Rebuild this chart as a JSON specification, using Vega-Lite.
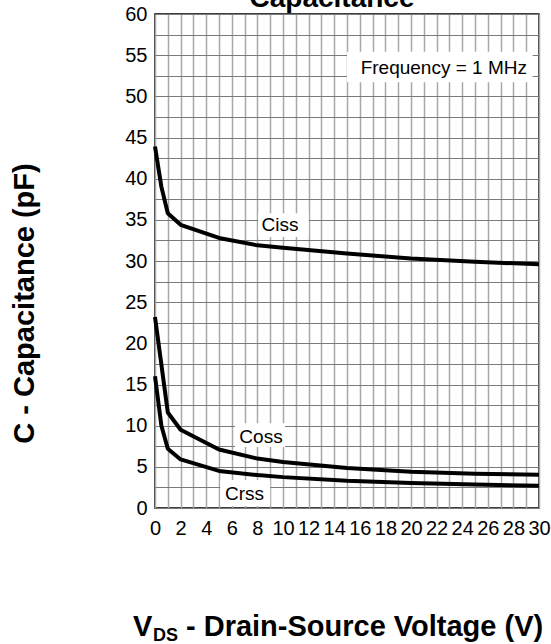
{
  "$schema": "https://vega.github.io/schema/vega-lite/v6.json",
  "width": 384,
  "height": 494,
  "autosize": {"type": "none"},
  "padding": {"left": 155, "top": 14, "right": 12, "bottom": 136},
  "background": "white",
  "config": {
    "font": "Liberation Sans",
    "view": {"stroke": "#000", "strokeWidth": 1.5},
    "axis": {
      "domain": false,
      "ticks": false,
      "labelFont": "Liberation Sans",
      "labelFontSize": 20,
      "labelColor": "#000",
      "labelFlush": false,
      "labelOverlap": false,
      "labelBound": false
    },
    "text": {"font": "Liberation Sans", "color": "#000"}
  },
  "datasets": {
    "curves": [
      {"series": "Ciss", "vds": 0, "c": 43.9},
      {"series": "Ciss", "vds": 0.5, "c": 39.0},
      {"series": "Ciss", "vds": 1, "c": 35.8},
      {"series": "Ciss", "vds": 2, "c": 34.4},
      {"series": "Ciss", "vds": 5, "c": 32.8},
      {"series": "Ciss", "vds": 8, "c": 31.9},
      {"series": "Ciss", "vds": 10, "c": 31.6},
      {"series": "Ciss", "vds": 15, "c": 30.9},
      {"series": "Ciss", "vds": 20, "c": 30.3},
      {"series": "Ciss", "vds": 25, "c": 29.9},
      {"series": "Ciss", "vds": 30, "c": 29.6},
      {"series": "Coss", "vds": 0, "c": 23.2},
      {"series": "Coss", "vds": 1, "c": 11.6},
      {"series": "Coss", "vds": 2, "c": 9.5},
      {"series": "Coss", "vds": 5, "c": 7.1},
      {"series": "Coss", "vds": 8, "c": 6.0},
      {"series": "Coss", "vds": 10, "c": 5.6},
      {"series": "Coss", "vds": 15, "c": 4.85},
      {"series": "Coss", "vds": 20, "c": 4.4},
      {"series": "Coss", "vds": 25, "c": 4.15},
      {"series": "Coss", "vds": 30, "c": 4.05},
      {"series": "Crss", "vds": 0, "c": 16.0},
      {"series": "Crss", "vds": 0.5, "c": 10.0},
      {"series": "Crss", "vds": 1, "c": 7.2},
      {"series": "Crss", "vds": 2, "c": 5.9},
      {"series": "Crss", "vds": 5, "c": 4.5},
      {"series": "Crss", "vds": 8, "c": 4.0},
      {"series": "Crss", "vds": 10, "c": 3.75},
      {"series": "Crss", "vds": 15, "c": 3.3},
      {"series": "Crss", "vds": 20, "c": 3.05},
      {"series": "Crss", "vds": 25, "c": 2.85},
      {"series": "Crss", "vds": 30, "c": 2.7}
    ]
  },
  "layer": [
    {
      "data": {"name": "curves"},
      "mark": {"type": "line", "color": "#000", "strokeWidth": 4, "strokeJoin": "round"},
      "encoding": {
        "x": {
          "field": "vds",
          "type": "quantitative",
          "scale": {"domain": [0, 30], "nice": false, "zero": false},
          "axis": {
            "values": [0,1,2,3,4,5,6,7,8,9,10,11,12,13,14,15,16,17,18,19,20,21,22,23,24,25,26,27,28,29,30],
            "labelExpr": "datum.value % 2 === 0 ? datum.label : ''",
            "labelOverlap": false,
            "grid": true,
            "gridColor": "#a8a8a8",
            "gridWidth": 1.5,
            "labelPadding": 10,
            "title": null
          }
        },
        "y": {
          "field": "c",
          "type": "quantitative",
          "scale": {"domain": [0, 60], "nice": false},
          "axis": {
            "values": [0,2.5,5,7.5,10,12.5,15,17.5,20,22.5,25,27.5,30,32.5,35,37.5,40,42.5,45,47.5,50,52.5,55,57.5,60],
            "labelExpr": "datum.value % 5 === 0 ? datum.label : ''",
            "labelOverlap": false,
            "grid": true,
            "gridColor": "#7a7a7a",
            "gridWidth": 1,
            "labelPadding": 8,
            "title": "C - Capacitance (pF)",
            "titleFontSize": 29,
            "titleFontWeight": "bold",
            "titleColor": "#000",
            "titleAngle": -90,
            "titleX": -122,
            "titleY": 289,
            "titleAlign": "center",
            "titleBaseline": "alphabetic"
          }
        },
        "detail": {"field": "series"}
      }
    },
    {
      "data": {"values": [{}]},
      "mark": {"type": "text", "text": "Capacitance", "fontSize": 28, "fontWeight": "bold", "align": "center", "baseline": "alphabetic"},
      "encoding": {
        "x": {"datum": 13.83, "type": "quantitative", "axis": {"values": [0,1,2,3,4,5,6,7,8,9,10,11,12,13,14,15,16,17,18,19,20,21,22,23,24,25,26,27,28,29,30], "labelExpr": "datum.value % 2 === 0 ? datum.label : ''", "labelOverlap": false, "grid": true, "gridColor": "#a8a8a8", "gridWidth": 1.5, "labelPadding": 10, "title": null}},
        "y": {"datum": 60.79, "type": "quantitative", "axis": {"values": [0,2.5,5,7.5,10,12.5,15,17.5,20,22.5,25,27.5,30,32.5,35,37.5,40,42.5,45,47.5,50,52.5,55,57.5,60], "labelExpr": "datum.value % 5 === 0 ? datum.label : ''", "labelOverlap": false, "grid": true, "gridColor": "#7a7a7a", "gridWidth": 1, "labelPadding": 8, "title": "C - Capacitance (pF)", "titleFontSize": 29, "titleFontWeight": "bold", "titleColor": "#000", "titleAngle": -90, "titleX": -122, "titleY": 289, "titleAlign": "center", "titleBaseline": "alphabetic"}}
      }
    },
    {
      "data": {"values": [{}]},
      "mark": {"type": "rect", "fill": "white"},
      "encoding": {
        "x": {"datum": 15.0, "type": "quantitative", "axis": {"values": [0,1,2,3,4,5,6,7,8,9,10,11,12,13,14,15,16,17,18,19,20,21,22,23,24,25,26,27,28,29,30], "labelExpr": "datum.value % 2 === 0 ? datum.label : ''", "labelOverlap": false, "grid": true, "gridColor": "#a8a8a8", "gridWidth": 1.5, "labelPadding": 10, "title": null}},
        "x2": {"datum": 29.5},
        "y": {"datum": 55.4, "type": "quantitative", "axis": {"values": [0,2.5,5,7.5,10,12.5,15,17.5,20,22.5,25,27.5,30,32.5,35,37.5,40,42.5,45,47.5,50,52.5,55,57.5,60], "labelExpr": "datum.value % 5 === 0 ? datum.label : ''", "labelOverlap": false, "grid": true, "gridColor": "#7a7a7a", "gridWidth": 1, "labelPadding": 8, "title": "C - Capacitance (pF)", "titleFontSize": 29, "titleFontWeight": "bold", "titleColor": "#000", "titleAngle": -90, "titleX": -122, "titleY": 289, "titleAlign": "center", "titleBaseline": "alphabetic"}},
        "y2": {"datum": 51.7}
      }
    },
    {
      "data": {"values": [{}]},
      "mark": {"type": "text", "text": "Frequency = 1 MHz", "fontSize": 19, "align": "right", "baseline": "middle"},
      "encoding": {
        "x": {"datum": 29.06, "type": "quantitative", "axis": {"values": [0,1,2,3,4,5,6,7,8,9,10,11,12,13,14,15,16,17,18,19,20,21,22,23,24,25,26,27,28,29,30], "labelExpr": "datum.value % 2 === 0 ? datum.label : ''", "labelOverlap": false, "grid": true, "gridColor": "#a8a8a8", "gridWidth": 1.5, "labelPadding": 10, "title": null}},
        "y": {"datum": 53.4, "type": "quantitative", "axis": {"values": [0,2.5,5,7.5,10,12.5,15,17.5,20,22.5,25,27.5,30,32.5,35,37.5,40,42.5,45,47.5,50,52.5,55,57.5,60], "labelExpr": "datum.value % 5 === 0 ? datum.label : ''", "labelOverlap": false, "grid": true, "gridColor": "#7a7a7a", "gridWidth": 1, "labelPadding": 8, "title": "C - Capacitance (pF)", "titleFontSize": 29, "titleFontWeight": "bold", "titleColor": "#000", "titleAngle": -90, "titleX": -122, "titleY": 289, "titleAlign": "center", "titleBaseline": "alphabetic"}}
      }
    },
    {
      "data": {"values": [{}]},
      "mark": {"type": "rect", "fill": "white"},
      "encoding": {
        "x": {"datum": 8.05, "type": "quantitative", "axis": {"values": [0,1,2,3,4,5,6,7,8,9,10,11,12,13,14,15,16,17,18,19,20,21,22,23,24,25,26,27,28,29,30], "labelExpr": "datum.value % 2 === 0 ? datum.label : ''", "labelOverlap": false, "grid": true, "gridColor": "#a8a8a8", "gridWidth": 1.5, "labelPadding": 10, "title": null}},
        "x2": {"datum": 12.0},
        "y": {"datum": 35.8, "type": "quantitative", "axis": {"values": [0,2.5,5,7.5,10,12.5,15,17.5,20,22.5,25,27.5,30,32.5,35,37.5,40,42.5,45,47.5,50,52.5,55,57.5,60], "labelExpr": "datum.value % 5 === 0 ? datum.label : ''", "labelOverlap": false, "grid": true, "gridColor": "#7a7a7a", "gridWidth": 1, "labelPadding": 8, "title": "C - Capacitance (pF)", "titleFontSize": 29, "titleFontWeight": "bold", "titleColor": "#000", "titleAngle": -90, "titleX": -122, "titleY": 289, "titleAlign": "center", "titleBaseline": "alphabetic"}},
        "y2": {"datum": 32.9}
      }
    },
    {
      "data": {"values": [{}]},
      "mark": {"type": "text", "text": "Ciss", "fontSize": 19, "align": "center", "baseline": "middle"},
      "encoding": {
        "x": {"datum": 9.77, "type": "quantitative", "axis": {"values": [0,1,2,3,4,5,6,7,8,9,10,11,12,13,14,15,16,17,18,19,20,21,22,23,24,25,26,27,28,29,30], "labelExpr": "datum.value % 2 === 0 ? datum.label : ''", "labelOverlap": false, "grid": true, "gridColor": "#a8a8a8", "gridWidth": 1.5, "labelPadding": 10, "title": null}},
        "y": {"datum": 34.4, "type": "quantitative", "axis": {"values": [0,2.5,5,7.5,10,12.5,15,17.5,20,22.5,25,27.5,30,32.5,35,37.5,40,42.5,45,47.5,50,52.5,55,57.5,60], "labelExpr": "datum.value % 5 === 0 ? datum.label : ''", "labelOverlap": false, "grid": true, "gridColor": "#7a7a7a", "gridWidth": 1, "labelPadding": 8, "title": "C - Capacitance (pF)", "titleFontSize": 29, "titleFontWeight": "bold", "titleColor": "#000", "titleAngle": -90, "titleX": -122, "titleY": 289, "titleAlign": "center", "titleBaseline": "alphabetic"}}
      }
    },
    {
      "data": {"values": [{}]},
      "mark": {"type": "rect", "fill": "white"},
      "encoding": {
        "x": {"datum": 6.25, "type": "quantitative", "axis": {"values": [0,1,2,3,4,5,6,7,8,9,10,11,12,13,14,15,16,17,18,19,20,21,22,23,24,25,26,27,28,29,30], "labelExpr": "datum.value % 2 === 0 ? datum.label : ''", "labelOverlap": false, "grid": true, "gridColor": "#a8a8a8", "gridWidth": 1.5, "labelPadding": 10, "title": null}},
        "x2": {"datum": 10.16},
        "y": {"datum": 10.3, "type": "quantitative", "axis": {"values": [0,2.5,5,7.5,10,12.5,15,17.5,20,22.5,25,27.5,30,32.5,35,37.5,40,42.5,45,47.5,50,52.5,55,57.5,60], "labelExpr": "datum.value % 5 === 0 ? datum.label : ''", "labelOverlap": false, "grid": true, "gridColor": "#7a7a7a", "gridWidth": 1, "labelPadding": 8, "title": "C - Capacitance (pF)", "titleFontSize": 29, "titleFontWeight": "bold", "titleColor": "#000", "titleAngle": -90, "titleX": -122, "titleY": 289, "titleAlign": "center", "titleBaseline": "alphabetic"}},
        "y2": {"datum": 7.4}
      }
    },
    {
      "data": {"values": [{}]},
      "mark": {"type": "text", "text": "Coss", "fontSize": 19, "align": "center", "baseline": "middle"},
      "encoding": {
        "x": {"datum": 8.28, "type": "quantitative", "axis": {"values": [0,1,2,3,4,5,6,7,8,9,10,11,12,13,14,15,16,17,18,19,20,21,22,23,24,25,26,27,28,29,30], "labelExpr": "datum.value % 2 === 0 ? datum.label : ''", "labelOverlap": false, "grid": true, "gridColor": "#a8a8a8", "gridWidth": 1.5, "labelPadding": 10, "title": null}},
        "y": {"datum": 8.68, "type": "quantitative", "axis": {"values": [0,2.5,5,7.5,10,12.5,15,17.5,20,22.5,25,27.5,30,32.5,35,37.5,40,42.5,45,47.5,50,52.5,55,57.5,60], "labelExpr": "datum.value % 5 === 0 ? datum.label : ''", "labelOverlap": false, "grid": true, "gridColor": "#7a7a7a", "gridWidth": 1, "labelPadding": 8, "title": "C - Capacitance (pF)", "titleFontSize": 29, "titleFontWeight": "bold", "titleColor": "#000", "titleAngle": -90, "titleX": -122, "titleY": 289, "titleAlign": "center", "titleBaseline": "alphabetic"}}
      }
    },
    {
      "data": {"values": [{}]},
      "mark": {"type": "rect", "fill": "white"},
      "encoding": {
        "x": {"datum": 5.1, "type": "quantitative", "axis": {"values": [0,1,2,3,4,5,6,7,8,9,10,11,12,13,14,15,16,17,18,19,20,21,22,23,24,25,26,27,28,29,30], "labelExpr": "datum.value % 2 === 0 ? datum.label : ''", "labelOverlap": false, "grid": true, "gridColor": "#a8a8a8", "gridWidth": 1.5, "labelPadding": 10, "title": null}},
        "x2": {"datum": 9.0},
        "y": {"datum": 3.4, "type": "quantitative", "axis": {"values": [0,2.5,5,7.5,10,12.5,15,17.5,20,22.5,25,27.5,30,32.5,35,37.5,40,42.5,45,47.5,50,52.5,55,57.5,60], "labelExpr": "datum.value % 5 === 0 ? datum.label : ''", "labelOverlap": false, "grid": true, "gridColor": "#7a7a7a", "gridWidth": 1, "labelPadding": 8, "title": "C - Capacitance (pF)", "titleFontSize": 29, "titleFontWeight": "bold", "titleColor": "#000", "titleAngle": -90, "titleX": -122, "titleY": 289, "titleAlign": "center", "titleBaseline": "alphabetic"}},
        "y2": {"datum": 0.25}
      }
    },
    {
      "data": {"values": [{}]},
      "mark": {"type": "text", "text": "Crss", "fontSize": 19, "align": "center", "baseline": "middle"},
      "encoding": {
        "x": {"datum": 7.0, "type": "quantitative", "axis": {"values": [0,1,2,3,4,5,6,7,8,9,10,11,12,13,14,15,16,17,18,19,20,21,22,23,24,25,26,27,28,29,30], "labelExpr": "datum.value % 2 === 0 ? datum.label : ''", "labelOverlap": false, "grid": true, "gridColor": "#a8a8a8", "gridWidth": 1.5, "labelPadding": 10, "title": null}},
        "y": {"datum": 1.76, "type": "quantitative", "axis": {"values": [0,2.5,5,7.5,10,12.5,15,17.5,20,22.5,25,27.5,30,32.5,35,37.5,40,42.5,45,47.5,50,52.5,55,57.5,60], "labelExpr": "datum.value % 5 === 0 ? datum.label : ''", "labelOverlap": false, "grid": true, "gridColor": "#7a7a7a", "gridWidth": 1, "labelPadding": 8, "title": "C - Capacitance (pF)", "titleFontSize": 29, "titleFontWeight": "bold", "titleColor": "#000", "titleAngle": -90, "titleX": -122, "titleY": 289, "titleAlign": "center", "titleBaseline": "alphabetic"}}
      }
    },
    {
      "data": {"values": [{}]},
      "mark": {"type": "text", "text": "V", "fontSize": 29, "fontWeight": "bold", "align": "left", "baseline": "alphabetic"},
      "encoding": {
        "x": {"datum": -1.72, "type": "quantitative", "axis": {"values": [0,1,2,3,4,5,6,7,8,9,10,11,12,13,14,15,16,17,18,19,20,21,22,23,24,25,26,27,28,29,30], "labelExpr": "datum.value % 2 === 0 ? datum.label : ''", "labelOverlap": false, "grid": true, "gridColor": "#a8a8a8", "gridWidth": 1.5, "labelPadding": 10, "title": null}},
        "y": {"datum": -15.55, "type": "quantitative", "axis": {"values": [0,2.5,5,7.5,10,12.5,15,17.5,20,22.5,25,27.5,30,32.5,35,37.5,40,42.5,45,47.5,50,52.5,55,57.5,60], "labelExpr": "datum.value % 5 === 0 ? datum.label : ''", "labelOverlap": false, "grid": true, "gridColor": "#7a7a7a", "gridWidth": 1, "labelPadding": 8, "title": "C - Capacitance (pF)", "titleFontSize": 29, "titleFontWeight": "bold", "titleColor": "#000", "titleAngle": -90, "titleX": -122, "titleY": 289, "titleAlign": "center", "titleBaseline": "alphabetic"}}
      }
    },
    {
      "data": {"values": [{}]},
      "mark": {"type": "text", "text": "DS", "fontSize": 18, "fontWeight": "bold", "align": "left", "baseline": "alphabetic"},
      "encoding": {
        "x": {"datum": -0.16, "type": "quantitative", "axis": {"values": [0,1,2,3,4,5,6,7,8,9,10,11,12,13,14,15,16,17,18,19,20,21,22,23,24,25,26,27,28,29,30], "labelExpr": "datum.value % 2 === 0 ? datum.label : ''", "labelOverlap": false, "grid": true, "gridColor": "#a8a8a8", "gridWidth": 1.5, "labelPadding": 10, "title": null}},
        "y": {"datum": -16.15, "type": "quantitative", "axis": {"values": [0,2.5,5,7.5,10,12.5,15,17.5,20,22.5,25,27.5,30,32.5,35,37.5,40,42.5,45,47.5,50,52.5,55,57.5,60], "labelExpr": "datum.value % 5 === 0 ? datum.label : ''", "labelOverlap": false, "grid": true, "gridColor": "#7a7a7a", "gridWidth": 1, "labelPadding": 8, "title": "C - Capacitance (pF)", "titleFontSize": 29, "titleFontWeight": "bold", "titleColor": "#000", "titleAngle": -90, "titleX": -122, "titleY": 289, "titleAlign": "center", "titleBaseline": "alphabetic"}}
      }
    },
    {
      "data": {"values": [{}]},
      "mark": {"type": "text", "text": "- Drain-Source Voltage (V)", "fontSize": 29, "fontWeight": "bold", "align": "left", "baseline": "alphabetic"},
      "encoding": {
        "x": {"datum": 2.42, "type": "quantitative", "axis": {"values": [0,1,2,3,4,5,6,7,8,9,10,11,12,13,14,15,16,17,18,19,20,21,22,23,24,25,26,27,28,29,30], "labelExpr": "datum.value % 2 === 0 ? datum.label : ''", "labelOverlap": false, "grid": true, "gridColor": "#a8a8a8", "gridWidth": 1.5, "labelPadding": 10, "title": null}},
        "y": {"datum": -15.55, "type": "quantitative", "axis": {"values": [0,2.5,5,7.5,10,12.5,15,17.5,20,22.5,25,27.5,30,32.5,35,37.5,40,42.5,45,47.5,50,52.5,55,57.5,60], "labelExpr": "datum.value % 5 === 0 ? datum.label : ''", "labelOverlap": false, "grid": true, "gridColor": "#7a7a7a", "gridWidth": 1, "labelPadding": 8, "title": "C - Capacitance (pF)", "titleFontSize": 29, "titleFontWeight": "bold", "titleColor": "#000", "titleAngle": -90, "titleX": -122, "titleY": 289, "titleAlign": "center", "titleBaseline": "alphabetic"}}
      }
    }
  ]
}
